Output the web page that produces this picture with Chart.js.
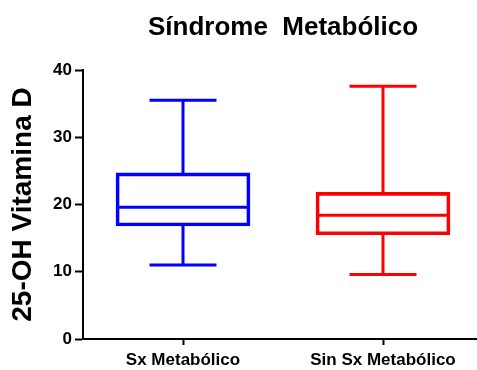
<!DOCTYPE html>
<html>
<head>
<meta charset="utf-8">
<script src="https://cdn.jsdelivr.net/npm/chart.js@4/dist/chart.umd.min.js"></script>
<style>
html,body{margin:0;padding:0;background:#fff;overflow:hidden;}
#wrap{width:477px;height:370px;}
</style>
</head>
<body>
<div id="wrap"><canvas id="c" width="477" height="370"></canvas></div>
<script>
const categories = ["Sx Metabólico", "Sin Sx Metabólico"];
const mins    = [11.0, 9.6];
const q1s     = [16.8, 15.5];
const medians = [19.6, 18.4];
const q3s     = [24.7, 21.8];
const maxs    = [35.5, 37.6];
const colors  = ["#0000ff", "#ff0000"];
const yTicks  = [0, 10, 20, 30, 40];
const chartTitle = "Síndrome  Metabólico";
const yTitle = "25-OH Vitamina D";

const FONT = "'Liberation Sans', Arial, Helvetica, sans-serif";

const boxPlugin = {
  id: 'boxWhiskers',
  afterDatasetsDraw(chart) {
    const ctx = chart.ctx;
    const xs = chart.scales.x, ys = chart.scales.y;
    const meta = chart.getDatasetMeta(0);
    ctx.save();
    ctx.lineWidth = 3;
    ctx.lineCap = 'butt';
    categories.forEach((c, i) => {
      const el = meta.data[i];
      const cx = xs.getPixelForValue(i);
      const half = el.width / 2;
      const capHalf = el.width / 4;
      ctx.strokeStyle = colors[i];
      ctx.beginPath();
      ctx.moveTo(cx - half, ys.getPixelForValue(medians[i]));
      ctx.lineTo(cx + half, ys.getPixelForValue(medians[i]));
      ctx.moveTo(cx, ys.getPixelForValue(q3s[i]));
      ctx.lineTo(cx, ys.getPixelForValue(maxs[i]));
      ctx.moveTo(cx - capHalf, ys.getPixelForValue(maxs[i]));
      ctx.lineTo(cx + capHalf, ys.getPixelForValue(maxs[i]));
      ctx.moveTo(cx, ys.getPixelForValue(q1s[i]));
      ctx.lineTo(cx, ys.getPixelForValue(mins[i]));
      ctx.moveTo(cx - capHalf, ys.getPixelForValue(mins[i]));
      ctx.lineTo(cx + capHalf, ys.getPixelForValue(mins[i]));
      ctx.stroke();
    });
    ctx.fillStyle = '#000';
    ctx.font = "bold 26px " + FONT;
    ctx.textAlign = 'center';
    ctx.textBaseline = 'alphabetic';
    ctx.fillText(chartTitle, xs.getPixelForValue(0.5), 35);
    ctx.restore();
  }
};

new Chart(document.getElementById('c'), {
  type: 'bar',
  data: {
    datasets: [{
      data: categories.map((c, i) => ({ x: i, y: [q1s[i], q3s[i]] })),
      backgroundColor: 'rgba(255,255,255,0)',
      borderColor: colors,
      borderWidth: 3,
      borderSkipped: false,
      barThickness: 134
    }]
  },
  options: {
    responsive: false,
    animation: false,
    layout: { padding: { top: 70, left: 0, right: 0, bottom: 0 } },
    plugins: { legend: { display: false }, tooltip: { enabled: false }, title: { display: false } },
    scales: {
      x: {
        type: 'linear',
        offset: false,
        min: -0.5,
        max: 1.47,
        afterBuildTicks: (s) => { s.ticks = categories.map((c, i) => ({ value: i })); },
        afterFit: (s) => { s.height = 31; },
        ticks: {
          callback: (v) => categories[v],
          color: '#000',
          font: { family: FONT, size: 17, weight: 'bold' },
          padding: 5,
          maxRotation: 0,
          autoSkip: false
        },
        grid: { offset: false, drawOnChartArea: false, drawTicks: true, tickLength: 6, tickColor: '#000', tickWidth: 2 },
        border: { display: true, color: '#000', width: 2 }
      },
      y: {
        min: 0,
        max: 40,
        afterBuildTicks: (s) => { s.ticks = yTicks.map(v => ({ value: v })); },
        afterFit: (s) => { s.width = 83; },
        ticks: {
          color: '#000',
          font: { family: FONT, size: 17, weight: 'bold' },
          padding: 3
        },
        grid: { drawOnChartArea: false, drawTicks: true, tickLength: 8, tickColor: '#000', tickWidth: 2 },
        border: { display: true, color: '#000', width: 2 },
        title: {
          display: true,
          text: yTitle,
          color: '#000',
          font: { family: FONT, size: 28, weight: 'bold' },
          padding: { top: 6, bottom: 0 }
        }
      }
    }
  },
  plugins: [boxPlugin]
});
</script>
</body>
</html>
